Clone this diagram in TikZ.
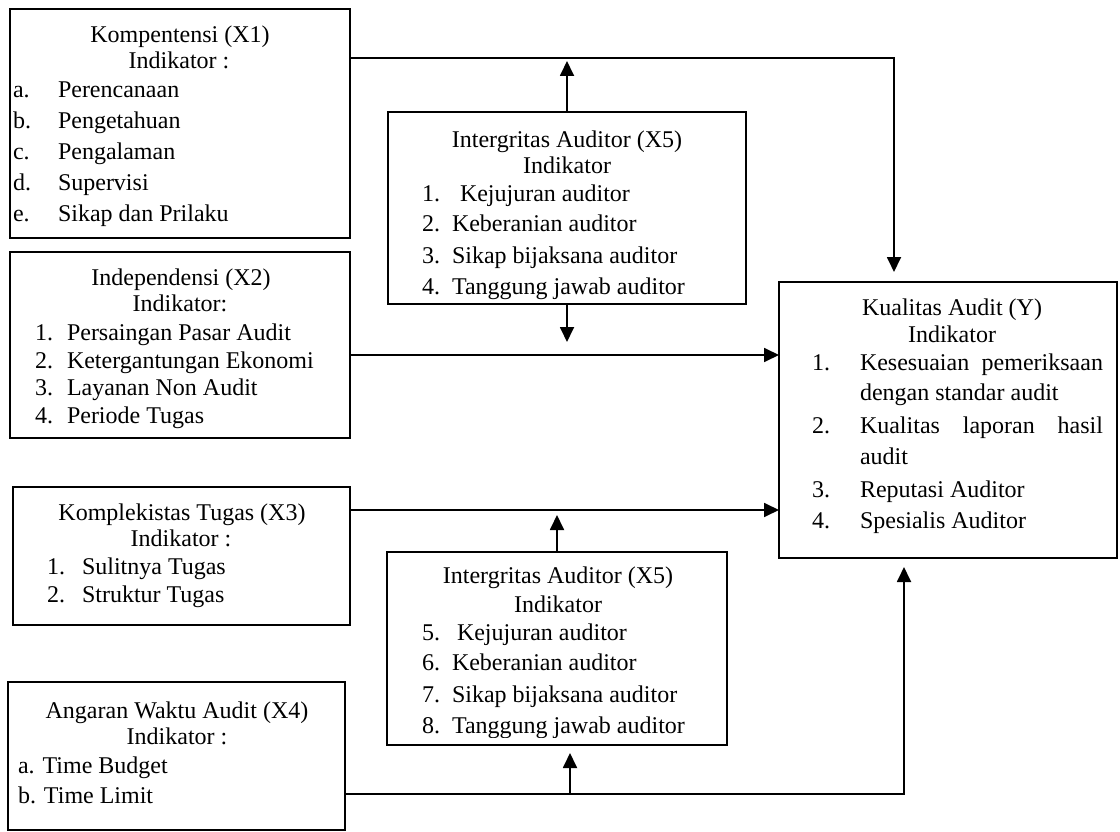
\documentclass[tikz,border=0pt]{standalone}
\usepackage{fontspec}
\setmainfont{Liberation Serif}
\usetikzlibrary{arrows.meta,fit}
\begin{document}
\begin{tikzpicture}[x=1pt,y=-1pt,
  box/.style={draw, line width=1.8pt, inner sep=0pt, outer sep=0pt},
  conn/.style={line width=1.8pt, -{Triangle[length=15pt,width=14pt]}},
  tx/.style={inner sep=0pt, outer sep=0pt, font=\fontsize{24}{28}\selectfont},
  lt/.style={tx, anchor=base west},
  ct/.style={tx, anchor=base},
]
\useasboundingbox (0,0) rectangle (1120,832);

% boxes
\node[box, fit={(10,9) (350,238)}] (x1) {};
\node[box, fit={(10,252) (350,438)}] (x2) {};
\node[box, fit={(13,487) (350,625)}] (x3) {};
\node[box, fit={(8,682) (345,830)}] (x4) {};
\node[box, fit={(388,112) (746,304)}] (x5a) {};
\node[box, fit={(387,552) (727,745)}] (x5b) {};
\node[box, fit={(779,282) (1117,558)}] (y) {};

% X1 text
\node[ct] (x1h) at (180,43) {Kompentensi (X1)};
\node[ct] (x1i) at (179,69) {Indikator :};
\node[lt] (x1la) at (13,98) {a.};  \node[lt] (x1a) at (58,98) {Perencanaan};
\node[lt] (x1lb) at (13,129) {b.}; \node[lt] (x1b) at (58,129) {Pengetahuan};
\node[lt] (x1lc) at (13,160) {c.}; \node[lt] (x1c) at (58,160) {Pengalaman};
\node[lt] (x1ld) at (13,191) {d.}; \node[lt] (x1d) at (58,191) {Supervisi};
\node[lt] (x1le) at (13,222) {e.}; \node[lt] (x1e) at (58,222) {Sikap dan Prilaku};

% X2 text
\node[ct] (x2h) at (181,285) {Independensi (X2)};
\node[ct] (x2i) at (180,311) {Indikator:};
\node[lt] (x2l1) at (35,340) {1.}; \node[lt] (x2a) at (67,340) {Persaingan Pasar Audit};
\node[lt] (x2l2) at (35,368) {2.}; \node[lt] (x2b) at (67,368) {Ketergantungan Ekonomi};
\node[lt] (x2l3) at (35,395) {3.}; \node[lt] (x2c) at (67,395) {Layanan Non Audit};
\node[lt] (x2l4) at (35,423) {4.}; \node[lt] (x2d) at (67,423) {Periode Tugas};

% X3 text
\node[ct] (x3h) at (182,520) {Komplekistas Tugas (X3)};
\node[ct] (x3i) at (181,546) {Indikator :};
\node[lt] (x3l1) at (47,574) {1.}; \node[lt] (x3a) at (82,574) {Sulitnya Tugas};
\node[lt] (x3l2) at (47,602) {2.}; \node[lt] (x3b) at (82,602) {Struktur Tugas};

% X4 text
\node[ct] (x4h) at (177,718) {Angaran Waktu Audit (X4)};
\node[ct] (x4i) at (177,744) {Indikator :};
\node[lt] (x4a) at (18,773) {a. Time Budget};
\node[lt] (x4b) at (18,803) {b. Time Limit};

% X5 (top) text
\node[ct] (x5ah) at (567,148) {Intergritas Auditor (X5)};
\node[ct] (x5ai) at (567,174) {Indikator};
\node[lt] (x5al1) at (422,201) {1.}; \node[lt] (x5a1) at (460,201) {Kejujuran auditor};
\node[lt] (x5al2) at (422,232) {2.}; \node[lt] (x5a2) at (452,232) {Keberanian auditor};
\node[lt] (x5al3) at (422,263) {3.}; \node[lt] (x5a3) at (452,263) {Sikap bijaksana auditor};
\node[lt] (x5al4) at (422,294) {4.}; \node[lt] (x5a4) at (452,294) {Tanggung jawab auditor};

% X5 (bottom) text
\node[ct] (x5bh) at (558,583) {Intergritas Auditor (X5)};
\node[ct] (x5bi) at (558,612) {Indikator};
\node[lt] (x5bl1) at (422,640) {5.}; \node[lt] (x5b1) at (457,640) {Kejujuran auditor};
\node[lt] (x5bl2) at (422,670) {6.}; \node[lt] (x5b2) at (452,670) {Keberanian auditor};
\node[lt] (x5bl3) at (422,702) {7.}; \node[lt] (x5b3) at (452,702) {Sikap bijaksana auditor};
\begin{scope}
\clip (387,552) rectangle (727,737);
\node[lt] (x5bl4) at (422,733) {8.}; \node[lt] (x5b4) at (452,733) {Tanggung jawab auditor};
\end{scope}

% Y text
\node[ct] (yh) at (952,315) {Kualitas Audit (Y)};
\node[ct] (yi) at (952,342) {Indikator};
\node[lt] (yl1) at (812,370) {1.}; \node[lt] (y1) at (860,370) {\makebox[243pt][s]{Kesesuaian pemeriksaan}};
\node[lt] (y1b) at (860,400) {dengan standar audit};
\node[lt] (yl2) at (812,433) {2.}; \node[lt] (y2) at (860,433) {\makebox[243pt][s]{Kualitas laporan hasil}};
\node[lt] (y2b) at (860,464) {audit};
\node[lt] (yl3) at (812,497) {3.}; \node[lt] (y3) at (860,497) {Reputasi Auditor};
\node[lt] (yl4) at (812,528) {4.}; \node[lt] (y4) at (860,528) {Spesialis Auditor};

% connectors
\coordinate (k1) at (894,58);
\coordinate (k1t) at (894,272);
\draw[conn] (x1.east |- k1) -- (k1) -- (k1t);

\coordinate (a5t) at (567,61);
\draw[conn] (x5a.north) -- (a5t);
\coordinate (a5d) at (567,342);
\draw[conn] (x5a.south) -- (a5d);

\coordinate (l2) at (0,355);
\draw[conn] (x2.east |- l2) -- (y.west |- l2);
\coordinate (l3) at (0,510);
\draw[conn] (x3.east |- l3) -- (y.west |- l3);

\coordinate (b5t) at (557,515);
\draw[conn] (x5b.north) -- (b5t);

\coordinate (l4) at (904,794);
\coordinate (l4t) at (904,567);
\draw[conn] (x4.east |- l4) -- (l4) -- (l4t);
\coordinate (b5s) at (570,794);
\coordinate (b5st) at (570,753);
\draw[conn] (b5s) -- (b5st);
\end{tikzpicture}
\end{document}
